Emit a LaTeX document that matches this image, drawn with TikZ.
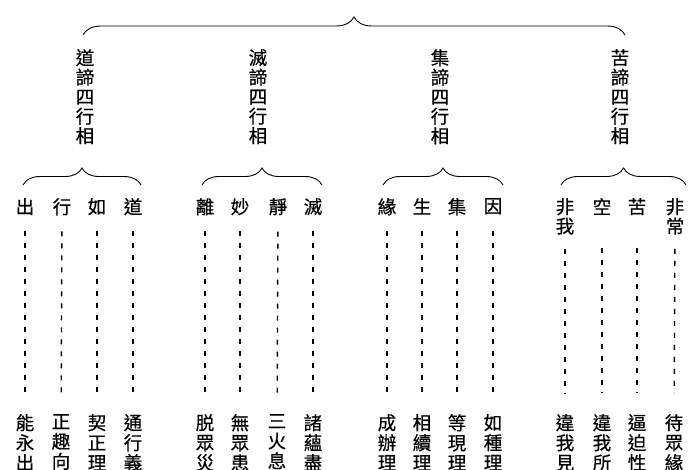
\documentclass[tikz,border=0pt]{standalone}
\usepackage{fontspec}
\newfontfamily\cjk[FakeBold=0.5]{Noto Sans CJK TC}
\usetikzlibrary{decorations.pathreplacing}
\begin{document}
\begin{tikzpicture}[x=1pt,y=-1pt,
  t/.style={font=\cjk\fontsize{18.5}{19.5}\selectfont, inner sep=0pt, align=center, anchor=north},
  dl/.style={line width=1.4pt, dash pattern=on 5pt off 7pt, shorten >=21pt},
  br/.style={decorate, decoration={brace, amplitude=17pt}, line width=0.9pt}]
\useasboundingbox (0,0) rectangle (700,470);
\clip (0,0) rectangle (700,470);
% top brace
\coordinate (tl) at (83,35);
\coordinate (tr) at (625,35);
\draw[br, decoration={amplitude=18pt}] (tl) -- (tr);
% headers
\node[t] (h1) at (85,49) {道\\諦\\四\\行\\相};
\node[t] (h2) at (258,49) {滅\\諦\\四\\行\\相};
\node[t] (h3) at (440,49) {集\\諦\\四\\行\\相};
\node[t] (h4) at (620,49) {苦\\諦\\四\\行\\相};
% sub braces
\coordinate (a1) at (23,185);  \coordinate (b1) at (141,185);
\coordinate (a2) at (202,185); \coordinate (b2) at (322,185);
\coordinate (a3) at (383,185); \coordinate (b3) at (503,185);
\coordinate (a4) at (561,185); \coordinate (b4) at (686,185);
\foreach \i in {1,2,3,4} \draw[br] (a\i) -- (b\i);
% level 2
\foreach \n/\x/\s in {11/25/出,12/62/行,13/97/如,14/133/道,
                      21/205/離,22/240/妙,23/278/靜,24/313/滅,
                      31/387/緣,32/422/生,33/457/集,34/493/因,
                      42/602/空,43/637/苦}
  \node[t] (c\n) at (\x,198) {\s};
\node[t] (c41) at (565,198) {非\\我};
\node[t] (c44) at (675,198) {非\\常};
% bottom
\foreach \n/\x/\s in {11/25/能\\永\\出,12/61/正\\趣\\向,13/97/契\\正\\理,14/133/通\\行\\義,
                      21/205/脱\\眾\\災,22/240/無\\眾\\患,23/277/三\\火\\息,24/313/諸\\蘊\\盡,
                      31/387/成\\辦\\理,32/422/相\\續\\理,33/457/等\\現\\理,34/493/如\\種\\理,
                      41/565/違\\我\\見,42/602/違\\我\\所,43/637/逼\\迫\\性,44/674/待\\眾\\緣}
  \node[t, font=\cjk\fontsize{18.5}{20}\selectfont] (d\n) at (\x,414) {\s};
% dashed lines
\foreach \n in {11,12,13,14,21,22,23,24,31,32,33,34}
  \draw[dl, shorten <=16pt] (c\n) -- (d\n);
\draw[dl, shorten <=14pt] (c41) -- (d41);
\draw[dl, shorten <=33pt] (c42) -- (d42);
\draw[dl, shorten <=33pt] (c43) -- (d43);
\draw[dl, shorten <=14pt] (c44) -- (d44);
\end{tikzpicture}
\end{document}
